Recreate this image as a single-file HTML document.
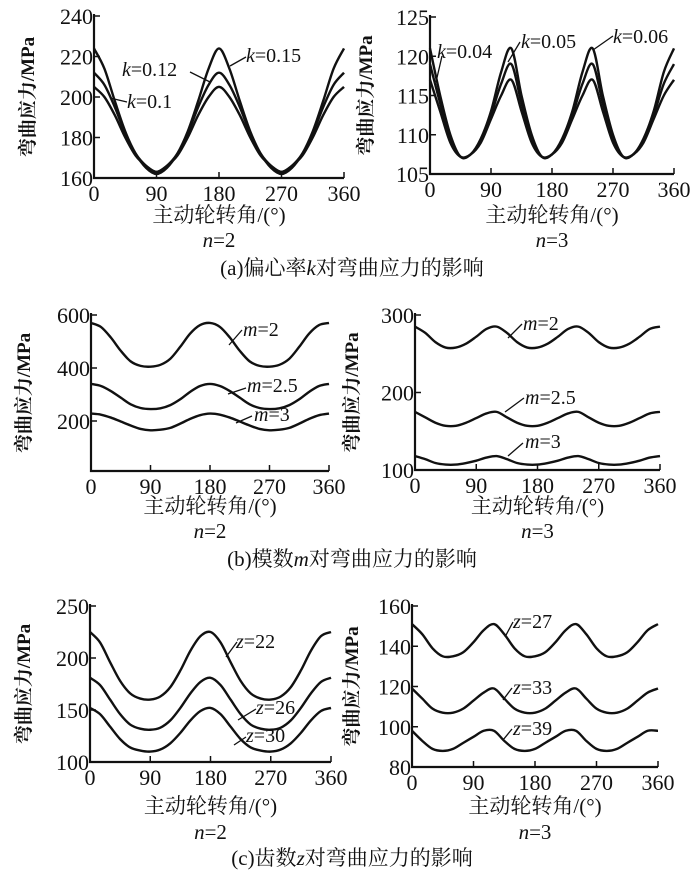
<!DOCTYPE html>
<html><head><meta charset="utf-8">
<style>
body{margin:0;background:#fff;}
svg{display:block;}
text{font-family:"Liberation Serif","Noto Serif CJK SC",serif;fill:#111;}
.tk{font-size:22px;}
.yt{font-size:19px;font-weight:bold;font-family:"Liberation Serif","Noto Serif CJK SC",serif;}
.xt{font-size:21px;}
.lb{font-size:20px;}
.cap{font-size:21px;}
</style></head>
<body>
<svg id="chart" width="700" height="879" viewBox="0 0 700 879" xmlns="http://www.w3.org/2000/svg"></svg>
<script>
// ---- data ----
const angles = [0,15,30,45,60,75,90,105,120,135,150,165,180,195,210,225,240,255,270,285,300,315,330,345,360];
const xTicks = [0,90,180,270,360];
// panel a n=2
const k015 = [224,214,198,183,172,165,162,165,172,183,198,214,224,214,198,183,172,165,162,165,172,183,198,214,224];
const k012 = [212,206,195,182,172,166,163,166,172,182,195,206,212,206,195,182,172,166,163,166,172,182,195,206,212];
const k010 = [205,200,191,180,171,166,163,166,171,180,191,200,205,200,191,180,171,166,163,166,171,180,191,200,205];
const aLeftTicks = [160,180,200,220,240];
// panel a n=3
const k006 = [121,115,110,107.2,107.5,109.5,113,118,121,115,110,107.2,107.5,109.5,113,118,121,115,110,107.2,107.5,109.5,113,118,121];
const k005 = [119,114,109.5,107.2,107.5,109.3,112.5,116.5,119,114,109.5,107.2,107.5,109.3,112.5,116.5,119,114,109.5,107.2,107.5,109.3,112.5,116.5,119];
const k004 = [117,113,109,107.2,107.5,109,112,115,117,113,109,107.2,107.5,109,112,115,117,113,109,107.2,107.5,109,112,115,117];
const aRightTicks = [105,110,115,120,125];
// panel b n=2
const m2L = [570,555,515,465,425,408,405,412,435,480,530,562,570,555,515,465,425,408,405,412,435,480,530,562,570];
const m25L = [340,332,313,288,263,249,245,248,260,282,310,332,340,332,313,288,263,249,245,248,260,282,310,332,340];
const m3L = [228,224,213,198,183,170,165,167,174,190,208,222,228,224,213,198,183,170,165,167,174,190,208,222,228];
const bLeftTicks = [200,400,600];
// panel b n=3
const m2R = [285,277,265,258,258,263,272,282,285,277,265,258,258,263,272,282,285,277,265,258,258,263,272,282,285];
const m25R = [175,168,161,157,157,161,167,173,175,168,161,157,157,161,167,173,175,168,161,157,157,161,167,173,175];
const m3R = [118,114,109,107,107,109,112,116,118,114,109,107,107,109,112,116,118,114,109,107,107,109,112,116,118];
const bRightTicks = [100,200,300];
// panel c n=2
const z22 = [225,215,196,178,166,161,160,163,172,188,207,221,225,215,196,178,166,161,160,163,172,188,207,221,225];
const z26 = [181,174,160,146,136,132,131,133,140,152,166,177,181,174,160,146,136,132,131,133,140,152,166,177,181];
const z30 = [152,146,134,122,114,111,110,112,118,128,140,149,152,146,134,122,114,111,110,112,118,128,140,149,152];
const cLeftTicks = [100,150,200,250];
// panel c n=3
const z27 = [151,146,139,135,135,137,142,148,151,146,139,135,135,137,142,148,151,146,139,135,135,137,142,148,151];
const z33 = [119,114,109,107,107,109,113,117,119,114,109,107,107,109,113,117,119,114,109,107,107,109,113,117,119];
const z39 = [98,93,89,88,89,92,95,98,98,93,89,88,89,92,95,98,98,93,89,88,89,92,95,98,98];
const cRightTicks = [80,100,120,140,160];

const NS="http://www.w3.org/2000/svg";
const svg=document.getElementById('chart');
function mk(tag,attrs,parent){const e=document.createElementNS(NS,tag);for(const k in attrs)e.setAttribute(k,attrs[k]);(parent||svg).appendChild(e);return e;}
function txt(x,y,s,cls,parent,anchor){const e=mk('text',{x:x,y:y,class:cls,'text-anchor':anchor||'start'},parent);e.innerHTML=s;return e;}

function panel(cfg){
  const g=mk('g',{});
  
  
  const sx=v=>cfg.x0+(v-0)/360*(cfg.x1-cfg.x0);
  const sy=v=>cfg.yb-(v-cfg.ymin)/(cfg.ymax-cfg.ymin)*(cfg.yb-cfg.yt);
  const yBot=cfg.axisBottom!==undefined?cfg.axisBottom:cfg.yb;
  const ax=mk('path',{d:`M${cfg.x0},${cfg.yt-2} V${yBot} H${cfg.x1}`,stroke:'#111','stroke-width':2.2,fill:'none'},g);
  
  
  xTicks.forEach(t=>{
    mk('line',{x1:sx(t),x2:sx(t),y1:yBot,y2:yBot-6,stroke:'#111','stroke-width':1.5},g);
    const e=txt(sx(t),yBot+23,t,'tk',g,'middle');
    
    
  });
  cfg.yTicks.forEach(t=>{
    mk('line',{x1:cfg.x0,x2:cfg.x0+6,y1:sy(t),y2:sy(t),stroke:'#111','stroke-width':1.5},g);
    const e=txt(cfg.x0-1,sy(t)+8,t,'tk',g,'end');
    
    
  });
  const yt=txt(0,0,'弯曲应力/MPa','yt',g,'middle');
  yt.setAttribute('transform',`translate(${cfg.ytx},${(cfg.yt+yBot)/2}) rotate(-90)`);
  
  
  const xt=txt((cfg.x0+cfg.x1)/2,cfg.xtY,'主动轮转角/(°)','xt',g,'middle');
  
  
  const nt=txt((cfg.x0+cfg.x1)/2,cfg.nY,'<tspan font-style="italic">n</tspan>='+cfg.n,'xt',g,'middle');
  
  
  cfg.series.forEach(s=>{
    const pts=angles.map((a,i)=>[sx(a),sy(s.v[i])]);
    let d=`M${pts[0][0]},${pts[0][1]}`;
    for(let i=0;i<pts.length-1;i++){
      const p0=pts[Math.max(0,i-1)],p1=pts[i],p2=pts[i+1],p3=pts[Math.min(pts.length-1,i+2)];
      const c1=[p1[0]+(p2[0]-p0[0])/6,p1[1]+(p2[1]-p0[1])/6];
      const c2=[p2[0]-(p3[0]-p1[0])/6,p2[1]-(p3[1]-p1[1])/6];
      d+=` C${c1[0]},${c1[1]} ${c2[0]},${c2[1]} ${p2[0]},${p2[1]}`;
    }
    const p=mk('path',{d:d,stroke:'#111','stroke-width':2.4,fill:'none'},g);
    
    
    mk('line',{x1:s.l[0],y1:s.l[1],x2:s.l[2],y2:s.l[3],stroke:'#111','stroke-width':1.3},g);
    const lt=txt(s.tx,s.ty,`<tspan font-style="italic">${s.sym}</tspan>=${s.val}`,'lb',g);
    
    
  });
}
function caption(y,html,name){const e=txt(352,y,html,'cap',svg,'middle');}

panel({name:'panel-a-n2',x0:94,x1:344,yt:16,yb:178,ymin:160,ymax:240,yTicks:aLeftTicks,ytx:34,xtY:222,nY:247,n:2,
 series:[{v:k015,sym:'k',val:'0.15',tx:246,ty:62,l:[246,57,230,66]},
         {v:k012,sym:'k',val:'0.12',tx:122,ty:76,l:[190,72,210,82]},
         {v:k010,sym:'k',val:'0.1',tx:127,ty:108,l:[127,102,110,98]}]});
panel({name:'panel-a-n3',x0:430,x1:674,yt:17,yb:174,ymin:105,ymax:125,yTicks:aRightTicks,ytx:372,xtY:222,nY:247,n:3,
 series:[{v:k006,sym:'k',val:'0.06',tx:613,ty:43,l:[613,36,593,50]},
         {v:k005,sym:'k',val:'0.05',tx:521,ty:48,l:[520,42,508,62]},
         {v:k004,sym:'k',val:'0.04',tx:437,ty:58,l:[442,56,436,82]}]});
caption(275,'(a)偏心率<tspan font-style="italic">k</tspan>对弯曲应力的影响','caption-a');

panel({name:'panel-b-n2',x0:91,x1:329,yt:315,yb:421,ymin:200,ymax:600,axisBottom:471,yTicks:bLeftTicks,ytx:30,xtY:513,nY:538,n:2,
 series:[{v:m2L,sym:'m',val:'2',tx:243,ty:336,l:[242,330,229,345]},
         {v:m25L,sym:'m',val:'2.5',tx:247,ty:392,l:[246,388,228,394]},
         {v:m3L,sym:'m',val:'3',tx:254,ty:421,l:[252,416,236,423]}]});
panel({name:'panel-b-n3',x0:415,x1:660,yt:315,yb:470,ymin:100,ymax:300,yTicks:bRightTicks,ytx:358,xtY:513,nY:538,n:3,
 series:[{v:m2R,sym:'m',val:'2',tx:523,ty:330,l:[522,324,508,338]},
         {v:m25R,sym:'m',val:'2.5',tx:525,ty:404,l:[524,398,505,412]},
         {v:m3R,sym:'m',val:'3',tx:525,ty:448,l:[523,443,508,456]}]});
caption(566,'(b)模数<tspan font-style="italic">m</tspan>对弯曲应力的影响','caption-b');

panel({name:'panel-c-n2',x0:90,x1:331,yt:606,yb:762,ymin:100,ymax:250,yTicks:cLeftTicks,ytx:30,xtY:813,nY:839,n:2,
 series:[{v:z22,sym:'z',val:'22',tx:236,ty:648,l:[237,642,226,657]},
         {v:z26,sym:'z',val:'26',tx:256,ty:714,l:[256,709,238,720]},
         {v:z30,sym:'z',val:'30',tx:246,ty:742,l:[246,737,234,745]}]});
panel({name:'panel-c-n3',x0:412,x1:658,yt:606,yb:767,ymin:80,ymax:160,yTicks:cRightTicks,ytx:358,xtY:813,nY:839,n:3,
 series:[{v:z27,sym:'z',val:'27',tx:513,ty:628,l:[513,622,505,637]},
         {v:z33,sym:'z',val:'33',tx:513,ty:694,l:[512,688,503,700]},
         {v:z39,sym:'z',val:'39',tx:513,ty:735,l:[512,729,503,740]}]});
caption(865,'(c)齿数<tspan font-style="italic">z</tspan>对弯曲应力的影响','caption-c');
</script>
</body></html>
